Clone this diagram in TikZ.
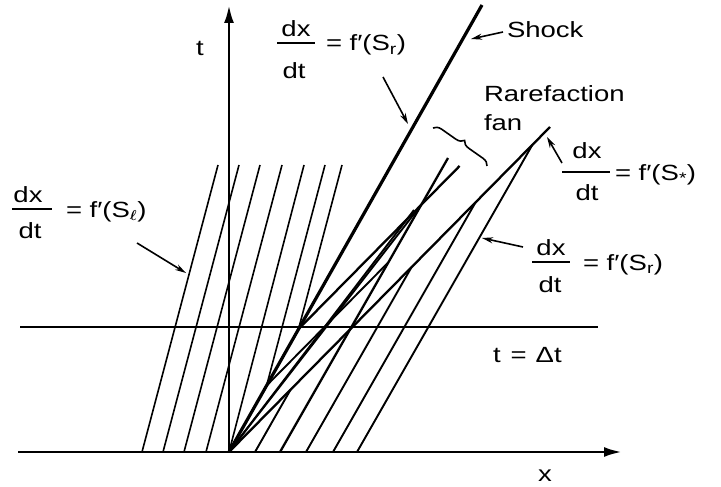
\documentclass[tikz,border=0pt]{standalone}
\usepackage{amsmath}
\usepackage{fontspec}
\setmainfont{Liberation Sans}[FakeStretch=1.25]
\usetikzlibrary{arrows.meta,decorations.pathreplacing}
\begin{document}
\begin{tikzpicture}[x=1pt,y=-1pt,
  every node/.style={inner sep=0pt,outer sep=0pt,font=\fontsize{22}{26}\selectfont},
  chr/.style={line width=1.6pt},
  rchr/.style={line width=1.9pt},
  ray/.style={line width=2.3pt},
  shockline/.style={line width=3.2pt},
  axisline/.style={line width=2.8pt,-{Latex[length=18pt,width=10pt]}},
  lbl/.style={line width=1.6pt,-{Stealth[length=11pt,width=6pt]}},
  fracbar/.style={line width=1.5pt}]
\useasboundingbox (0,0) rectangle (721,487);
% key points
\coordinate (O) at (229,452);
\coordinate (TT) at (229,5);
\coordinate (XL) at (18,452);
\coordinate (XR) at (622,452);
\coordinate (DL) at (20,327);
\coordinate (DR) at (598,327);
\coordinate (ST) at (482,5);
\coordinate (AP) at (550,127);
% left characteristics
\coordinate (T1) at (218,165); \coordinate (B1) at (142,452);
\coordinate (T2) at (239,165); \coordinate (B2) at (163,452);
\coordinate (T3) at (260,165); \coordinate (B3) at (184,452);
\coordinate (T4) at (282,165); \coordinate (B4) at (206,452);
\coordinate (T5) at (304,165);
\coordinate (T6) at (325,165); \coordinate (S6) at (266.6,385.6);
\coordinate (T7) at (342,165); \coordinate (S7) at (298.5,329.1);
% right characteristics
\coordinate (R1b) at (255,452); \coordinate (R1t) at (290.6,389.6);
\coordinate (R2b) at (280,452); \coordinate (R2t) at (448,158);
\coordinate (R3b) at (306,452); \coordinate (R3t) at (411.5,267.2);
\coordinate (R4b) at (333,452); \coordinate (R4t) at (475.5,202.4);
\coordinate (R5b) at (357,452); \coordinate (R5t) at (532.4,144.8);
% fan
\coordinate (Bt) at (459.6,166);
\coordinate (Bpt) at (388.3,262.4);
\coordinate (C) at (421,205);
\coordinate (C2) at (414,210);

% axes and time line
\draw[axisline] (O) -- (TT);
\draw[axisline] (XL) -- (XR);
\draw[line width=2.3pt] (DL) -- (DR);

% left characteristics
\draw[chr] (B1) -- (T1);
\draw[chr] (B2) -- (T2);
\draw[chr] (B3) -- (T3);
\draw[chr] (B4) -- (T4);
\draw[chr] (O) -- (T5);
\draw[chr] (S6) -- (T6);
\draw[chr] (S7) -- (T7);

% shock
\draw[shockline] (O) -- (ST);

% big ray and right characteristics
\draw[ray] (O) -- (AP);
\draw[rchr] (R1b) -- (R1t);
\draw[ray] (R2b) -- (R2t);
\draw[rchr] (R3b) -- (R3t);
\draw[rchr] (R4b) -- (R4t);
\draw[rchr] (R5b) -- (R5t);

% fan lines
\draw[ray] (S7) -- (Bt);
\draw[rchr] (S6) -- (Bpt);
\draw[rchr] (O) -- (C);
\draw[rchr] (O) -- (C2);

% brace
\coordinate (br1) at (433,128);
\coordinate (br2) at (487,166);
\draw[line width=1.6pt,decorate,decoration={brace,amplitude=8pt}] (br1) -- (br2);

% labels
\node (tlab) at (200,48) {t};
\node (xlab) at (545,476) {x};

% top fraction
\node (dx1) at (296,29) {dx};
\node (dt1) at (294,71) {dt};
\coordinate (f1a) at (277,43); \coordinate (f1b) at (315,43);
\draw[fracbar] (f1a) -- (f1b);
\node[anchor=base west] (eq1) at (326,51) {= f′(S\textsubscript{r})};
\coordinate (a1s) at (383,77); \coordinate (a1e) at (408,124);
\draw[lbl] (a1s) -- (a1e);

% shock label
\node[anchor=base west] (shock) at (507,38) {Shock};
\coordinate (a2s) at (503,32); \coordinate (a2e) at (471,39);
\draw[lbl] (a2s) -- (a2e);

% rarefaction fan
\node[anchor=base west] (rare) at (484,102) {Rarefaction};
\node[anchor=base west] (fan) at (484,131) {fan};

% S* fraction
\node (dx2) at (587,151) {dx};
\node (dt2) at (587,193) {dt};
\coordinate (f2a) at (562,172); \coordinate (f2b) at (610,172);
\draw[fracbar] (f2a) -- (f2b);
\node[anchor=base west] (eq2) at (615,180) {= f′(S\textsubscript{*})};
\coordinate (a3s) at (562,163); \coordinate (a3e) at (547,137);
\draw[lbl] (a3s) -- (a3e);

% lower right fraction
\node (dx3) at (551,248) {dx};
\node (dt3) at (550,285) {dt};
\coordinate (f3a) at (532,262); \coordinate (f3b) at (570,262);
\draw[fracbar] (f3a) -- (f3b);
\node[anchor=base west] (eq3) at (583,270) {= f′(S\textsubscript{r})};
\coordinate (a4s) at (523,247); \coordinate (a4e) at (482,238);
\draw[lbl] (a4s) -- (a4e);

% t = Delta t
\node[anchor=base west] (tdt) at (493,362) {t\hspace{10pt}=\hspace{9pt}Δt};

% left fraction
\node (dx4) at (28,195) {dx};
\node (dt4) at (30,231) {dt};
\coordinate (f4a) at (12,209); \coordinate (f4b) at (52,209);
\draw[fracbar] (f4a) -- (f4b);
\node[anchor=base west] (eq4) at (66,217) {= f′(S$_{\boldsymbol{\ell}}$)};
\coordinate (a5s) at (137,243); \coordinate (a5e) at (186,273);
\draw[lbl] (a5s) -- (a5e);
\end{tikzpicture}
\end{document}
